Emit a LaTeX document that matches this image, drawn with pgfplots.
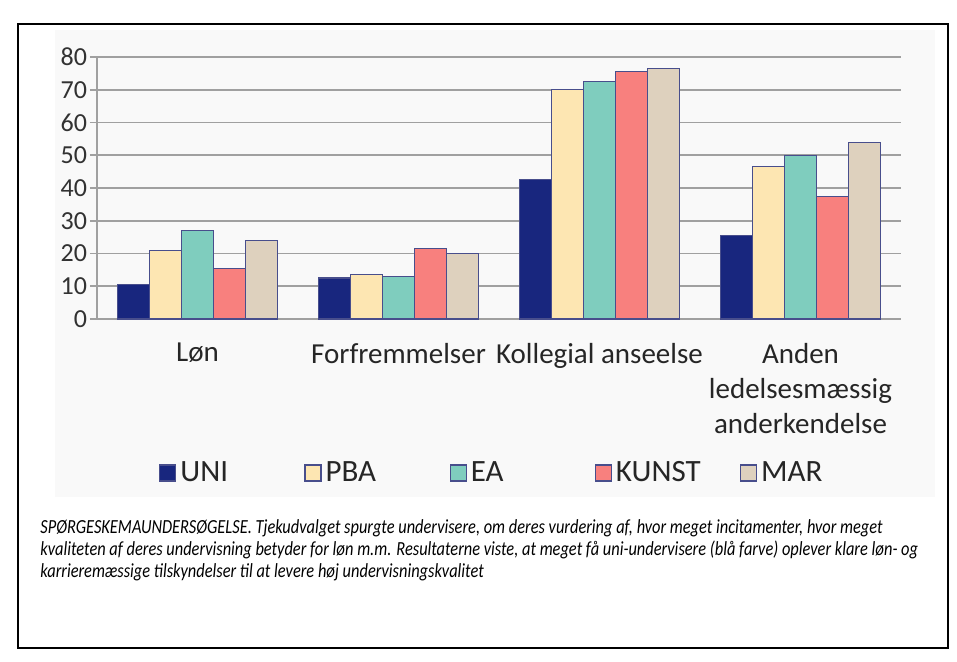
\documentclass[border=0pt]{standalone}
\usepackage{pgfplots}
\pgfplotsset{compat=1.18}
\usepackage{fontspec}
\setmainfont{Carlito}
\newfontfamily\capfont[FakeStretch=0.82]{Carlito}
\definecolor{cUNI}{RGB}{24,38,126}
\definecolor{cPBA}{RGB}{253,230,178}
\definecolor{cEA}{RGB}{127,205,190}
\definecolor{cKUNST}{RGB}{248,128,126}
\definecolor{cMAR}{RGB}{222,209,190}
\definecolor{edge}{RGB}{72,78,140}
\definecolor{gridc}{RGB}{160,160,160}
\definecolor{panel}{RGB}{249,249,249}
\definecolor{ticktext}{RGB}{50,50,50}
\begin{document}
\begin{tikzpicture}
\path (0pt,0pt) rectangle (478.5pt,330.5pt);
\fill[panel] (27.5pt,82pt) rectangle (467.5pt,315.5pt);
\draw[black, line width=0.7pt] (9pt,6.5pt) rectangle (474pt,318.5pt);
\begin{axis}[
  at={(48.5pt,171pt)}, anchor=south west,
  scale only axis, width=402pt, height=131pt,
  ybar, bar width=0.159,
  xmin=0.5, xmax=4.5, ymin=0, ymax=80,
  enlargelimits=false,
  ytick={0,10,...,80},
  ymajorgrids, grid style={gridc, line width=0.8pt},
  axis x line*=bottom, axis y line*=left,
  axis line style={gridc, line width=0.8pt},
  tick align=outside, major tick length=3.5pt,
  ytick style={gridc, line width=0.8pt},
  yticklabel style={font=\fontsize{13}{15}\selectfont, text=ticktext, xshift=2pt},
  /pgf/number format/assume math mode=true,
  xtick={1,2,3,4},
  xtick style={draw=none},
  xticklabels={L{\o}n, Forfremmelser, Kollegial anseelse, {Anden\\ledelsesm{\ae}ssig\\anderkendelse}},
  xticklabel style={align=center, font=\fontsize{14.5}{17.5}\selectfont, text=black!85, yshift=-5pt},
  extra x ticks={0.5,1.5,2.5,3.5,4.5},
  extra x tick labels={},
  extra x tick style={major tick length=5pt, tick style={gridc, line width=0.8pt}},
  legend columns=5,
  legend style={at={(0.499,-0.588)}, anchor=center, draw=none, fill=none,
    font=\fontsize{15.5}{18}\selectfont, text=black!85},
  legend image code/.code={\draw[#1, line width=0.6pt] (0pt,-4pt) rectangle (8pt,4pt);},
]
\addplot[fill=cUNI, draw=edge, line width=0.6pt, bar shift=-0.318] coordinates {(1,10.5) (2,12.5) (3,42.5) (4,25.5)};
\addlegendentry{\makebox[60pt][l]{UNI}}
\addplot[fill=cPBA, draw=edge, line width=0.6pt, bar shift=-0.159] coordinates {(1,21) (2,13.5) (3,70) (4,46.5)};
\addlegendentry{\makebox[60pt][l]{PBA}}
\addplot[fill=cEA, draw=edge, line width=0.6pt, bar shift=0] coordinates {(1,27) (2,13) (3,72.5) (4,50)};
\addlegendentry{\makebox[60pt][l]{EA}}
\addplot[fill=cKUNST, draw=edge, line width=0.6pt, bar shift=0.159] coordinates {(1,15.5) (2,21.5) (3,75.5) (4,37.5)};
\addlegendentry{\makebox[60pt][l]{KUNST}}
\addplot[fill=cMAR, draw=edge, line width=0.6pt, bar shift=0.318] coordinates {(1,24) (2,20) (3,76.5) (4,54)};
\addlegendentry{\makebox[36pt][l]{MAR}}
\end{axis}
\node[anchor=north west, inner sep=0pt, align=left, font=\capfont\itshape\fontsize{10}{11}\selectfont] at (20pt,71pt) {SP{\O}RGESKEMAUNDERS{\O}GELSE. Tjekudvalget spurgte undervisere, om deres vurdering af, hvor meget incitamenter, hvor meget\\kvaliteten af deres undervisning betyder for l{\o}n m.m. Resultaterne viste, at meget f{\aa} uni-undervisere (bl{\aa} farve) oplever klare l{\o}n- og\\karrierem{\ae}ssige tilskyndelser til at levere h{\o}j undervisningskvalitet};
\end{tikzpicture}
\end{document}
